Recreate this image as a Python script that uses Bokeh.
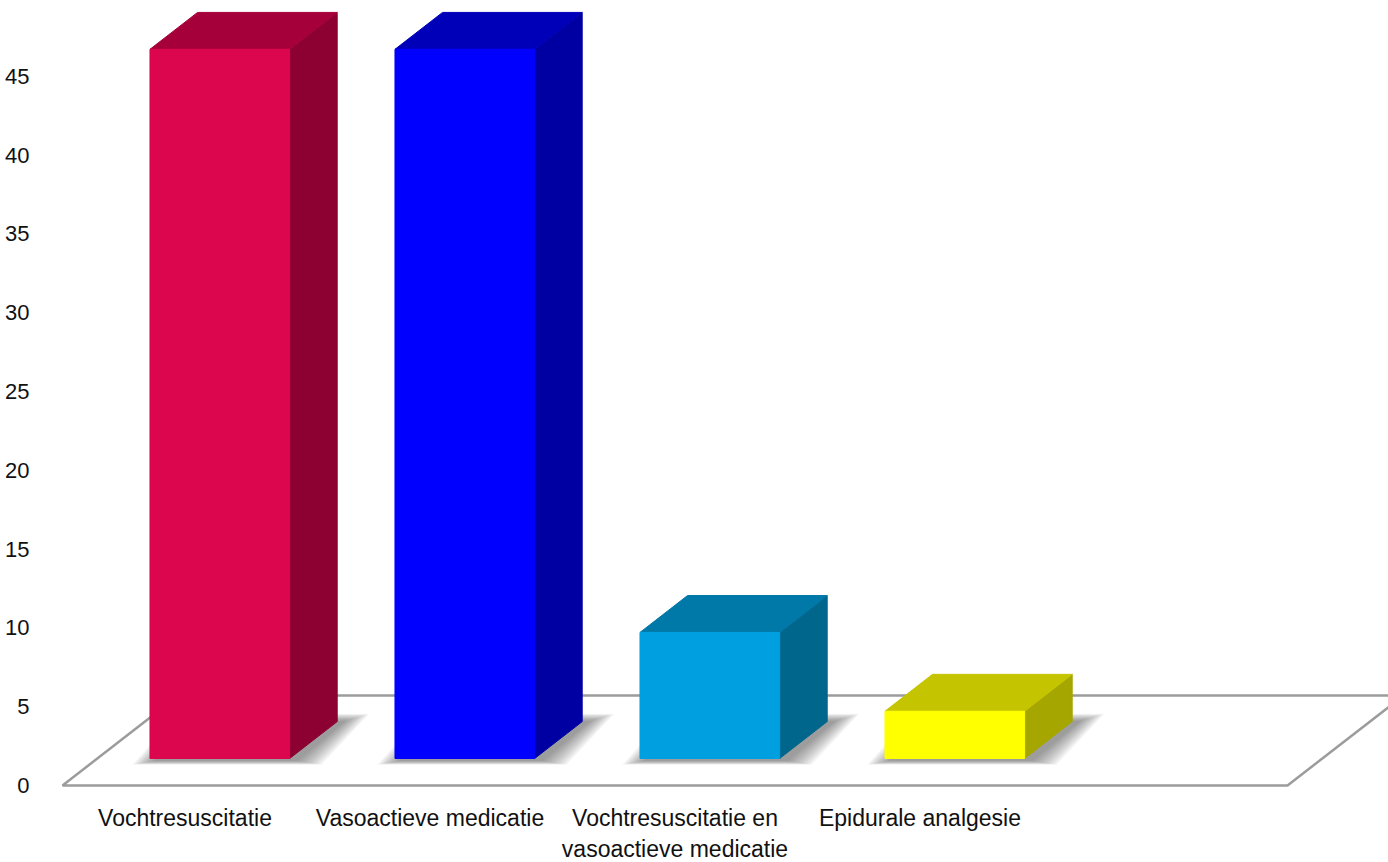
import numpy as np
from bokeh.plotting import figure
from bokeh.models import ColumnDataSource, FixedTicker, Range1d
from bokeh.embed import file_html
from bokeh.resources import INLINE

# --- data -------------------------------------------------------------
categories = [
    "Vochtresuscitatie",
    "Vasoactieve medicatie",
    "Vochtresuscitatie en\nvasoactieve medicatie",
    "Epidurale analgesie",
]
values = [45, 45, 8, 3]
y_ticks = [0, 5, 10, 15, 20, 25, 30, 35, 40, 45]

# --- styling ----------------------------------------------------------
front_colors = ["#DC064F", "#0000FF", "#00A0E0", "#FFFF00"]
top_colors = ["#A6003A", "#0000B8", "#0078A8", "#C4C400"]
side_colors = ["#8C0032", "#0000A2", "#00668C", "#A6A600"]
label_font = "Liberation Sans"

# 3-D geometry (x in category slots, y in value units)
n_slots = 5            # floor is one slot wider than the data
bar_width = 0.57
floor_dx = 0.4735      # horizontal shift of the floor's back edge
floor_dy = 5.71        # vertical shift of the floor's back edge
bar_front = 0.30       # depth position of the bar front (0 = floor front)
bar_back = 0.71        # depth position of the bar back

px_x = 245.0           # pixels per slot
px_y = 15.76           # pixels per value unit
frame_w = 1343
frame_h = 793

p = figure(
    frame_width=frame_w,
    frame_height=frame_h,
    x_range=Range1d(-17 / px_x, -17 / px_x + frame_w / px_x),
    y_range=Range1d(49.81 - frame_h / px_y, 49.81),
    output_backend="svg",
    toolbar_location=None,
    min_border_left=45,
    min_border_right=0,
    min_border_top=0,
    min_border_bottom=0,
)
p.outline_line_color = None
p.grid.visible = False
p.background_fill_color = "white"

# --- floor ------------------------------------------------------------
p.patch(
    [0, n_slots, n_slots + floor_dx, floor_dx],
    [0, 0, floor_dy, floor_dy],
    fill_color="white",
    line_color="#9c9c9c",
    line_width=2.5,
)

# --- bars -------------------------------------------------------------
ox = (bar_back - bar_front) * floor_dx
oy = (bar_back - bar_front) * floor_dy
yb = bar_front * floor_dy

fronts, tops, sides, bases = ([], []), ([], []), ([], []), []
for i, v in enumerate(values):
    c = i + 0.5
    x0 = c - bar_width / 2 + bar_front * floor_dx
    x1 = x0 + bar_width
    yt = yb + v
    fronts[0].append([x0, x1, x1, x0]); fronts[1].append([yb, yb, yt, yt])
    tops[0].append([x0, x1, x1 + ox, x0 + ox]); tops[1].append([yt, yt, yt + oy, yt + oy])
    sides[0].append([x1, x1 + ox, x1 + ox, x1]); sides[1].append([yb, yb + oy, yt + oy, yt])
    bases.append((x0, x1, yb))

# soft drop shadow on the floor, built up from many translucent layers
sh_xs, sh_ys = [], []
for e in range(26, 0, -2):
    ex = e / px_x
    ey = e / px_y
    sx = 6 / px_x
    for x0, x1, y0 in bases:
        sh_xs.append([x0 - ex * 0.9 + sx, x1 + ex + sx, x1 + ox + ex + sx, x0 + ox - ex + sx])
        sh_ys.append([y0 - ey * 0.16 - 2 / px_y, y0 - ey * 0.16 - 2 / px_y,
                      y0 + oy + ey * 0.3, y0 + oy + ey * 0.3])
p.patches(sh_xs, sh_ys, fill_color="#4a4a4a", fill_alpha=0.055, line_color=None)

p.patches(
    source=ColumnDataSource(dict(xs=sides[0], ys=sides[1], c=side_colors)),
    xs="xs", ys="ys", fill_color="c", line_color="c", line_width=1,
)
p.patches(
    source=ColumnDataSource(dict(xs=tops[0], ys=tops[1], c=top_colors)),
    xs="xs", ys="ys", fill_color="c", line_color="c", line_width=1,
)
p.patches(
    source=ColumnDataSource(dict(xs=fronts[0], ys=fronts[1], c=front_colors)),
    xs="xs", ys="ys", fill_color="c", line_color="c", line_width=1,
)

# --- axes -------------------------------------------------------------
yax = p.yaxis[0]
yax.ticker = FixedTicker(ticks=y_ticks)
yax.axis_line_color = None
yax.major_tick_line_color = None
yax.minor_tick_line_color = None
yax.major_label_standoff = 10
yax.major_label_text_font = label_font
yax.major_label_text_font_size = "22px"
yax.major_label_text_color = "#111111"

xax = p.xaxis[0]
xax.ticker = FixedTicker(ticks=[i + 0.5 for i in range(len(categories))])
xax.major_label_overrides = {i + 0.5: lab for i, lab in enumerate(categories)}
xax.axis_line_color = None
xax.major_tick_line_color = None
xax.minor_tick_line_color = None
xax.major_label_standoff = 5
xax.major_label_text_font = label_font
xax.major_label_text_font_size = "23px"
xax.major_label_text_color = "#111111"
xax.major_label_text_line_height = 1.2

open("out.html", "w").write(file_html(p, INLINE))
